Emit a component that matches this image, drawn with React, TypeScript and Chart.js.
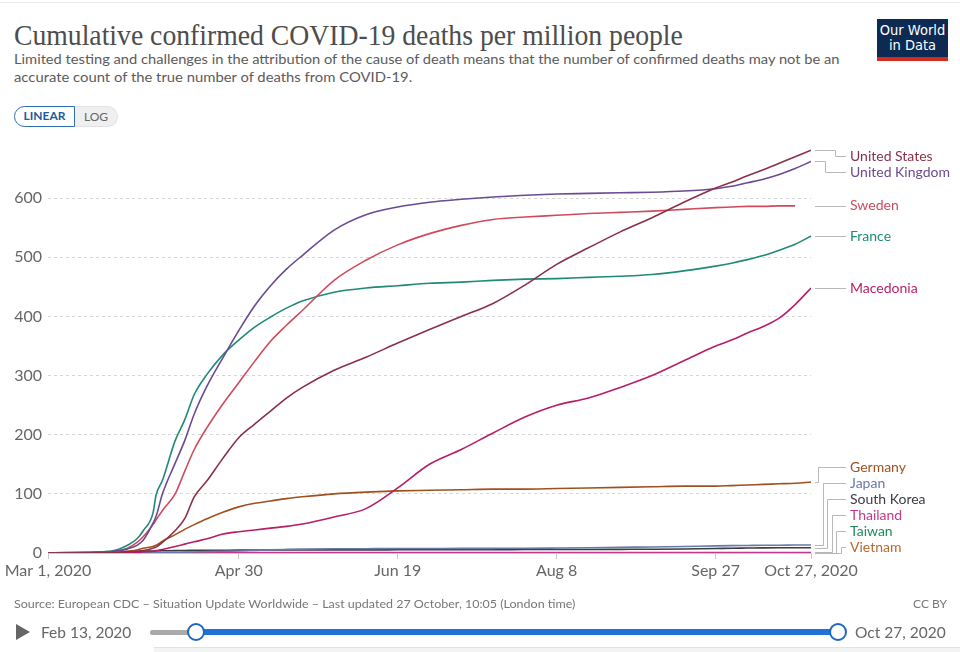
import React, { useEffect, useLayoutEffect, useRef, useState } from "react";
import { Chart, registerables } from "chart.js";

Chart.register(...registerables);

// Day index: 0 = Mar 1, 2020 ... 240 = Oct 27, 2020
const days = [0, 5, 10, 15, 18, 20, 22, 25, 28, 30, 33, 34, 36, 40, 43, 46, 50, 55, 60, 65, 70, 75, 80, 90, 100, 110, 120, 130, 140, 150, 160, 170, 180, 190, 200, 210, 215, 220, 225, 230, 235, 240];

const xTickDays = [0, 60, 110, 160, 210, 240];
const xTickLabels = ["Mar 1, 2020", "Apr 30", "Jun 19", "Aug 8", "Sep 27", "Oct 27, 2020"];
const yTickValues = [0, 100, 200, 300, 400, 500, 600];

const countries = ["United States", "United Kingdom", "Sweden", "France", "Macedonia", "Germany", "Japan", "South Korea", "Thailand", "Taiwan", "Vietnam"];
const colors = ["#8a3048", "#6a4a92", "#d04a5e", "#1f8a78", "#b81d66", "#a0501e", "#6a79a6", "#3b3b46", "#c4378a", "#1f8a5c", "#b5692a"];

const unitedStates = [0, 0, 0, 0.1, 0.2, 0.5, 0.9, 2, 3, 4, 8, 10, 18, 38, 58, 95, 122, 160, 195, 218, 240, 262, 280, 309, 331, 355, 378, 400, 422, 453, 488, 516, 543, 567, 593, 617, 627, 638, 648, 659, 670, 681];
const unitedKingdom = [0, 0, 0.1, 0.5, 1.5, 2.5, 4, 7, 13, 22, 50, 62, 100, 152, 190, 235, 282, 330, 376, 418, 452, 480, 503, 546, 572, 585, 593, 598, 602, 605, 607, 608, 609, 610, 612, 616, 620, 626, 632, 640, 650, 662];
const sweden = [0, 0, 0, 0.1, 0.5, 1, 3, 8, 18, 28, 48, 56, 72, 100, 138, 175, 212, 252, 288, 324, 358, 385, 410, 461, 495, 521, 540, 554, 564, 568, 571, 574, 576, 578, 581, 584, 585, 586, 586, 587, 587, null];
const france = [0.03, 0.05, 0.5, 1.4, 2.5, 3.5, 6, 13, 24, 38, 67, 98, 123, 190, 225, 268, 302, 335, 360, 382, 399, 414, 426, 441, 448, 452, 456, 458, 461, 463, 464, 466, 468, 471, 477, 485, 490, 496, 503, 512, 522, 536];
const macedonia = [0, 0, 0, 0, 0, 0, 0, 0.5, 1, 2, 3, 4, 6, 11, 15, 19, 24, 32, 36, 39, 42, 45, 49, 61, 75, 110, 150, 175, 203, 230, 250, 262, 280, 300, 325, 350, 360, 372, 383, 397, 420, 448];
const germany = [0, 0, 0, 0, 0.3, 0.8, 1.5, 3, 5, 8, 11, 13, 20, 31, 40, 48, 58, 69, 78, 84, 88, 92, 95, 100, 103, 105, 106, 107, 108, 108, 109, 110, 111, 112, 113, 113, 114, 115, 116, 117, 118, 120];
const japan = [0.05, 0.05, 0.1, 0.15, 0.2, 0.3, 0.35, 0.4, 0.45, 0.5, 0.6, 0.7, 0.8, 1.1, 1.4, 1.8, 2.4, 3.0, 3.4, 4.4, 5.5, 6.1, 6.5, 7.1, 7.3, 7.5, 7.6, 7.8, 7.9, 8.0, 8.4, 8.9, 9.6, 10.2, 11.0, 12.0, 12.4, 12.7, 13.0, 13.2, 13.4, 13.6];
const southKorea = [0.3, 0.6, 1.0, 1.5, 1.8, 2.0, 2.2, 2.5, 2.9, 3.2, 3.4, 3.5, 3.7, 4.0, 4.3, 4.4, 4.6, 4.7, 4.8, 5.0, 5.1, 5.2, 5.2, 5.3, 5.3, 5.4, 5.5, 5.5, 5.6, 5.8, 5.9, 6.0, 6.2, 6.4, 6.8, 7.6, 8.1, 8.4, 8.7, 8.8, 8.9, 9.0];
const thailand = [0.01, 0.01, 0.01, 0.01, 0.01, 0.01, 0.03, 0.06, 0.08, 0.1, 0.2, 0.3, 0.4, 0.5, 0.6, 0.65, 0.7, 0.74, 0.77, 0.78, 0.8, 0.8, 0.8, 0.82, 0.83, 0.83, 0.83, 0.83, 0.83, 0.83, 0.84, 0.84, 0.84, 0.84, 0.84, 0.85, 0.85, 0.85, 0.85, 0.85, 0.85, 0.85];
const taiwan = [0.04, 0.04, 0.04, 0.04, 0.04, 0.04, 0.08, 0.08, 0.08, 0.21, 0.21, 0.21, 0.21, 0.25, 0.25, 0.25, 0.25, 0.25, 0.25, 0.29, 0.29, 0.29, 0.29, 0.29, 0.29, 0.29, 0.29, 0.29, 0.29, 0.29, 0.29, 0.29, 0.29, 0.29, 0.29, 0.29, 0.29, 0.29, 0.29, 0.29, 0.29, 0.29];
const vietnam = [0, 0, 0, 0, 0, 0, 0, 0, 0, 0, 0, 0, 0, 0, 0, 0, 0, 0, 0, 0, 0, 0, 0, 0, 0, 0, 0, 0, 0, 0, 0.1, 0.3, 0.35, 0.36, 0.36, 0.36, 0.36, 0.36, 0.36, 0.36, 0.36, 0.36];

const seriesValues = [unitedStates, unitedKingdom, sweden, france, macedonia, germany, japan, southKorea, thailand, taiwan, vietnam];

const endLabels = {
  id: "endLabels",
  afterDatasetsDraw(chart: any) {
    const ctx = chart.ctx;
    const area = chart.chartArea;
    const items: any[] = [];
    chart.data.datasets.forEach((ds: any, i: number) => {
      const meta = chart.getDatasetMeta(i);
      let idx = ds.data.length - 1;
      while (idx >= 0 && (ds.data[idx].y === null || ds.data[idx].y === undefined)) idx--;
      const pt = meta.data[idx];
      items.push({ label: ds.label, color: ds.borderColor, target: pt.y, y: pt.y });
    });
    const gap = 16;
    const top = area.top + 17;
    const bottom = area.bottom - 6;
    for (let i = 0; i < items.length; i++) {
      let y = Math.max(items[i].target, top);
      if (i > 0) y = Math.max(y, items[i - 1].y + gap);
      items[i].y = y;
    }
    for (let i = items.length - 1; i >= 0; i--) {
      let y = Math.min(items[i].y, bottom);
      if (i < items.length - 1) y = Math.min(y, items[i + 1].y - gap);
      items[i].y = y;
    }
    const startX = area.right + 4;
    const endX = area.right + 35;
    const textX = area.right + 39;
    let downK = 0;
    let upK = 0;
    ctx.save();
    ctx.lineWidth = 1;
    ctx.strokeStyle = "#b8b8b8";
    items.forEach((it) => {
      const dy = it.y - it.target;
      ctx.beginPath();
      if (Math.abs(dy) <= 0.6) {
        downK = 0;
        upK = 0;
        ctx.moveTo(startX, Math.round(it.y) + 0.5);
        ctx.lineTo(endX, Math.round(it.y) + 0.5);
      } else {
        let elbow;
        if (dy > 0) {
          elbow = area.right + 24 - downK * 10;
          downK++;
          upK = 0;
        } else {
          elbow = area.right + 7 + upK * 4.6;
          upK++;
          downK = 0;
        }
        elbow = Math.round(elbow) + 0.5;
        ctx.moveTo(startX, Math.round(it.target) + 0.5);
        ctx.lineTo(elbow, Math.round(it.target) + 0.5);
        ctx.lineTo(elbow, Math.round(it.y) + 0.5);
        ctx.lineTo(endX, Math.round(it.y) + 0.5);
      }
      ctx.stroke();
    });
    ctx.font = "14px Lato";
    ctx.textBaseline = "middle";
    ctx.textAlign = "left";
    items.forEach((it) => {
      ctx.fillStyle = it.color;
      ctx.fillText(it.label, textX, it.y);
    });
    ctx.restore();
  },
};

function Fit({ width, style, children }: { width: number; style: any; children: any }) {
  const ref = useRef<HTMLSpanElement>(null);
  const [s, setS] = useState(1);
  useLayoutEffect(() => {
    const measure = () => {
      if (ref.current) {
        const w = ref.current.offsetWidth;
        if (w > 0) setS(width / w);
      }
    };
    measure();
    if ((document as any).fonts && (document as any).fonts.ready) {
      (document as any).fonts.ready.then(measure);
    }
  }, [width]);
  return (
    <span
      ref={ref}
      style={{
        ...style,
        position: "absolute",
        display: "inline-block",
        whiteSpace: "nowrap",
        transformOrigin: "0 50%",
        transform: `scaleX(${s})`,
      }}
    >
      {children}
    </span>
  );
}

export default function App() {
  const canvasRef = useRef<HTMLCanvasElement>(null);

  useEffect(() => {
    document.body.style.margin = "0";
    const canvas = canvasRef.current;
    if (!canvas) return;
    const datasets = countries.map((name, i) => ({
      label: name,
      data: days.map((d, j) => ({ x: d, y: seriesValues[i][j] })),
      borderColor: colors[i],
      backgroundColor: colors[i],
      borderWidth: 1.6,
      pointRadius: 0,
      cubicInterpolationMode: "monotone" as const,
      spanGaps: false,
    }));
    const chart = new Chart(canvas, {
      type: "line",
      data: { datasets },
      plugins: [endLabels],
      options: {
        responsive: false,
        animation: false,
        events: [],
        layout: { padding: { left: 0, top: 139, right: 149, bottom: 69 } },
        plugins: { legend: { display: false }, tooltip: { enabled: false } },
        scales: {
          x: {
            type: "linear",
            min: 0,
            max: 240,
            afterBuildTicks: (s: any) => {
              s.ticks = xTickDays.map((v) => ({ value: v }));
            },
            afterFit: (s: any) => {
              s.height = 30;
            },
            ticks: {
              autoSkip: false,
              maxRotation: 0,
              padding: 2,
              color: "#666",
              font: { family: "Lato", size: 16 },
              callback: (v: any) => {
                const k = xTickDays.indexOf(Number(v));
                return k >= 0 ? xTickLabels[k] : "";
              },
            },
            grid: { drawOnChartArea: false, drawTicks: true, tickLength: 6, color: "#c8c8c8" },
            border: { display: true, color: "#c8c8c8" },
          },
          y: {
            min: 0,
            max: 700,
            afterBuildTicks: (s: any) => {
              s.ticks = yTickValues.map((v) => ({ value: v }));
            },
            afterFit: (s: any) => {
              s.width = 48;
            },
            ticks: {
              padding: 6,
              color: "#666",
              font: { family: "Lato", size: 16 },
            },
            grid: { color: "#d6d6d6", drawTicks: false, lineWidth: 1 },
            border: { display: false, dash: [3, 3] },
          },
        },
      },
    });
    return () => chart.destroy();
  }, []);

  const lato = "Lato, sans-serif";
  return (
    <div style={{ position: "absolute", left: 0, top: 0, width: 960, height: 652, background: "#fff", overflow: "hidden", fontFamily: lato }}>
      <div style={{ position: "absolute", left: 0, top: 2, width: 960, height: 1, background: "#e8e8e8" }} />
      <Fit width={669} style={{ left: 14, top: 20, fontFamily: '"Liberation Serif", serif', fontSize: 30, lineHeight: "30px", color: "#4d4d4d" }}>
        Cumulative confirmed COVID-19 deaths per million people
      </Fit>
      <Fit width={826} style={{ left: 14, top: 50, fontFamily: lato, fontSize: 14, lineHeight: "18px", color: "#5b5b5b" }}>
        Limited testing and challenges in the attribution of the cause of death means that the number of confirmed deaths may not be an
      </Fit>
      <Fit width={398} style={{ left: 14, top: 68, fontFamily: lato, fontSize: 14, lineHeight: "18px", color: "#5b5b5b" }}>
        accurate count of the true number of deaths from COVID-19.
      </Fit>

      <div style={{ position: "absolute", left: 877, top: 19, width: 71, height: 42, background: "#0d2a52", color: "#fff", textAlign: "center", fontFamily: '"Liberation Sans Narrow", "DejaVu Sans Condensed", sans-serif', fontSize: 14.5, lineHeight: "15px" }}>
        <div style={{ paddingTop: 4 }}>Our World</div>
        <div>in Data</div>
        <div style={{ position: "absolute", left: 0, bottom: 0, width: 71, height: 4, background: "#d42b21" }} />
      </div>

      <div style={{ position: "absolute", left: 14, top: 106, width: 61, height: 21, boxSizing: "border-box", border: "1.5px solid #2f6fb3", borderRadius: "11px 0 0 11px", background: "#fff", color: "#1d5aa0", fontSize: 12, fontWeight: 700, lineHeight: "18px", textAlign: "center" }}>
        LINEAR
      </div>
      <div style={{ position: "absolute", left: 75, top: 106, width: 43, height: 21, boxSizing: "border-box", border: "1px solid #e2e2e2", borderLeft: "none", borderRadius: "0 11px 11px 0", background: "#efefef", color: "#666", fontSize: 12, lineHeight: "19px", textAlign: "center" }}>
        LOG
      </div>

      <canvas ref={canvasRef} width={960} height={652} style={{ position: "absolute", left: 0, top: 0, width: 960, height: 652 }} />

      <Fit width={561} style={{ left: 14, top: 597, fontFamily: lato, fontSize: 12, lineHeight: "14px", color: "#777" }}>
        Source: European CDC – Situation Update Worldwide – Last updated 27 October, 10:05 (London time)
      </Fit>
      <div style={{ position: "absolute", right: 13, top: 597, fontSize: 12, lineHeight: "14px", color: "#777" }}>CC BY</div>

      <div style={{ position: "absolute", left: 16, top: 624, width: 0, height: 0, borderTop: "8.5px solid transparent", borderBottom: "8.5px solid transparent", borderLeft: "14px solid #666" }} />
      <div style={{ position: "absolute", left: 41, top: 623, fontSize: 15.5, lineHeight: "18px", color: "#666", whiteSpace: "nowrap" }}>Feb 13, 2020</div>
      <div style={{ position: "absolute", left: 150, top: 630, width: 46, height: 5, background: "#aaa", borderRadius: 2 }} />
      <div style={{ position: "absolute", left: 196, top: 629, width: 642, height: 6, background: "#1f73d8" }} />
      <div style={{ position: "absolute", left: 187, top: 623, width: 18, height: 18, boxSizing: "border-box", borderRadius: "50%", border: "2px solid #1f66c1", background: "#fff" }} />
      <div style={{ position: "absolute", left: 829, top: 623, width: 18, height: 18, boxSizing: "border-box", borderRadius: "50%", border: "2px solid #1f66c1", background: "#fff" }} />
      <div style={{ position: "absolute", left: 855, top: 623, fontSize: 15.5, lineHeight: "18px", color: "#666", whiteSpace: "nowrap" }}>Oct 27, 2020</div>
      <div style={{ position: "absolute", left: 154, top: 647, width: 806, height: 5, background: "#f3f3f3", borderTop: "1px solid #e2e2e2" }} />
    </div>
  );
}
